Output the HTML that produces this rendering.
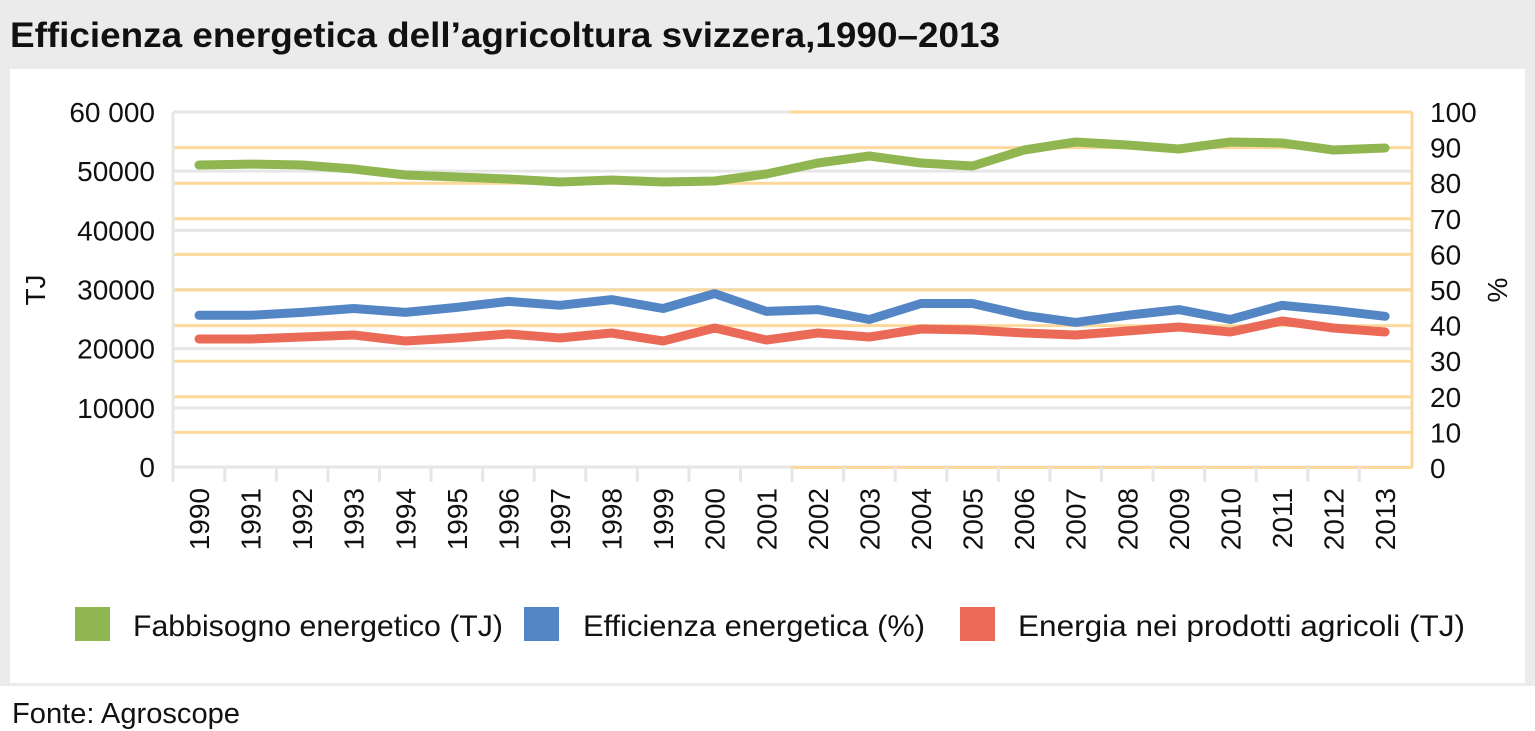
<!DOCTYPE html>
<html><head><meta charset="utf-8"><style>
body{margin:0;background:#fff;}
svg{display:block;font-family:"Liberation Sans",sans-serif;}
</style></head><body>
<svg width="1535" height="731" viewBox="0 0 1535 731">
<rect x="0" y="0" width="1535" height="686" fill="#ebebeb"/>
<text x="10" y="47" font-size="35" font-weight="bold" fill="#111" textLength="990" lengthAdjust="spacingAndGlyphs">Efficienza energetica dell’agricoltura svizzera,1990–2013</text>
<rect x="10" y="69" width="1515" height="614" fill="#fff"/>
<g id="grid"></g>
<g id="axes"></g>
<g id="series"></g>
<text transform="translate(45,290) rotate(-90)" font-size="28" text-anchor="middle" fill="#111">TJ</text>
<text transform="translate(1507,290) rotate(-90)" font-size="28" text-anchor="middle" fill="#111">%</text>
<g>
<rect x="75" y="607" width="35" height="34" fill="#8fb650"/>
<text x="133" y="636" font-size="30" fill="#111" textLength="370" lengthAdjust="spacingAndGlyphs">Fabbisogno energetico (TJ)</text>
<rect x="524" y="607" width="35" height="34" fill="#5486c6"/>
<text x="583" y="636" font-size="30" fill="#111" textLength="342" lengthAdjust="spacingAndGlyphs">Efficienza energetica (%)</text>
<rect x="960" y="607" width="35" height="34" fill="#ea6a57"/>
<text x="1018" y="636" font-size="30" fill="#111" textLength="447" lengthAdjust="spacingAndGlyphs">Energia nei prodotti agricoli (TJ)</text>
</g>
<text x="12" y="723" font-size="29" fill="#111" textLength="228" lengthAdjust="spacingAndGlyphs">Fonte: Agroscope</text>
</svg>
<script>
const years=["1990","1991","1992","1993","1994","1995","1996","1997","1998","1999","2000","2001","2002","2003","2004","2005","2006","2007","2008","2009","2010","2011","2012","2013"];
const fabbisogno=[51040,51200,51040,50360,49350,49010,48670,48170,48500,48170,48330,49520,51380,52560,51380,50870,53570,54930,54420,53740,54930,54760,53570,53910];
const efficienza=[42.9,42.9,43.7,44.8,43.7,45.1,46.8,45.7,47.3,44.8,49.0,44.0,44.5,41.7,46.2,46.2,42.9,40.9,42.9,44.5,41.7,45.7,44.3,42.6];
const energia=[21630,21630,21970,22310,21290,21800,22480,21800,22650,21290,23490,21460,22650,21970,23320,23150,22650,22310,22980,23660,22820,24670,23490,22820];
const leftTicks=["0","10000","20000","30000","40000","50000","60 000"];
const rightTicks=["0","10","20","30","40","50","60","70","80","90","100"];
const NS="http://www.w3.org/2000/svg";
const X0=199,DX=51.57,PL=173,PR=1412;
const xAt=i=>X0+i*DX;
const yL=v=>467-v/60000*355;
const yR=v=>468-v/100*356;
function mk(tag,attrs,parent){const e=document.createElementNS(NS,tag);for(const k in attrs)e.setAttribute(k,attrs[k]);parent.appendChild(e);return e;}
const grid=document.getElementById('grid'),axes=document.getElementById('axes'),series=document.getElementById('series');
leftTicks.forEach((t,i)=>{const y=yL(i*10000);
 const l=mk('line',{x1:PL,x2:PR,y1:y,y2:y,stroke:'#e6e6e6','stroke-width':3},grid);
 
 
 const tx=mk('text',{x:155,y:y+10,'font-size':28,'text-anchor':'end',fill:'#111'},axes);tx.textContent=t;
 
 
});
rightTicks.forEach((t,i)=>{const y=yR(i*10);
 if(i>0&&i<10){const l=mk('line',{x1:PL,x2:PR,y1:y,y2:y,stroke:'#fcd99b','stroke-width':3},grid);
 
 }
 const tx=mk('text',{x:1430,y:y+10,'font-size':28,fill:'#111'},axes);tx.textContent=t;
 
 
});
let f=mk('line',{x1:PL,x2:PL,y1:112,y2:482,stroke:'#e6e6e6','stroke-width':3},axes);


f=mk('line',{x1:790,x2:PR,y1:112,y2:112,stroke:'#fcd99b','stroke-width':3},axes);


f=mk('line',{x1:PR,x2:PR,y1:112,y2:468,stroke:'#fcd99b','stroke-width':3},axes);


f=mk('line',{x1:PL,x2:PR,y1:467,y2:467,stroke:'#e6e6e6','stroke-width':3},axes);


f=mk('line',{x1:790,x2:PR,y1:467.5,y2:467.5,stroke:'#fcd99b','stroke-width':3},axes);


years.forEach((yr,i)=>{
 if(i<years.length-1){const x=xAt(i)+DX/2;const t=mk('line',{x1:x,x2:x,y1:467,y2:482,stroke:'#e6e6e6','stroke-width':3},axes);
 
 }
 const tx=mk('text',{transform:`translate(${xAt(i)+10},488) rotate(-90)`,'font-size':28,'text-anchor':'end',fill:'#111'},axes);tx.textContent=yr;
 
 
});
function line(vals,fy,color,name){
 const d=vals.map((v,i)=>(i?'L':'M')+xAt(i).toFixed(1)+','+fy(v).toFixed(1)).join(' ');
 const p=mk('path',{d:d,fill:'none',stroke:color,'stroke-width':9,'stroke-linecap':'round','stroke-linejoin':'round'},series);
 
 
}
line(fabbisogno,yL,'#8fb650','line-fabbisogno');
line(efficienza,yR,'#5486c6','line-efficienza');
line(energia,yL,'#ea6a57','line-energia');
</script>
</body></html>
